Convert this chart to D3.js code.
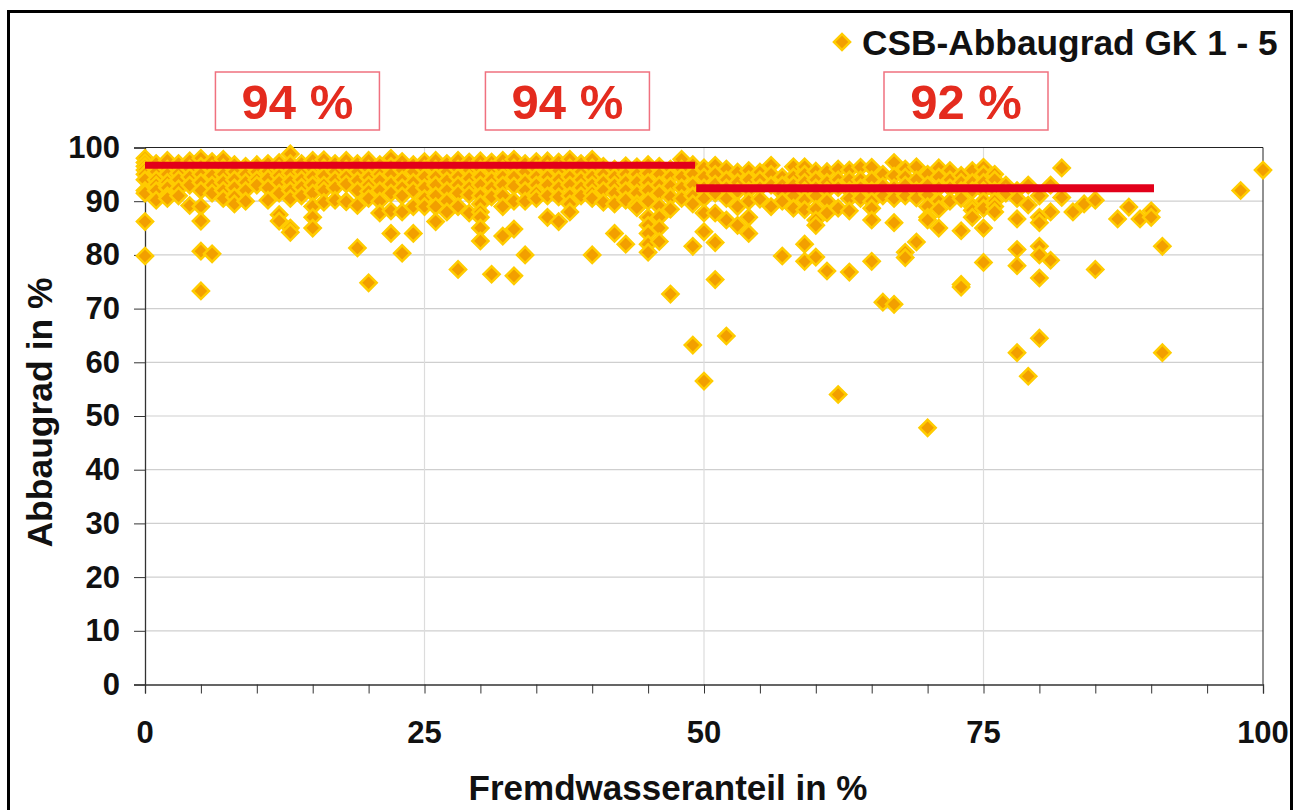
<!DOCTYPE html>
<html>
<head>
<meta charset="utf-8">
<script src="https://cdn.jsdelivr.net/npm/d3@7"></script>
<style>
    html, body { margin: 0; padding: 0; background: #fff; overflow: hidden; }
    text { font-family: "Liberation Sans", Arial, sans-serif; font-weight: bold; fill: #111; }
</style>
</head>
<body>
<div id="chart"></div>
<script>
var xTicks = [0, 25, 50, 75, 100];
var xMinorTicks = [0, 5, 10, 15, 20, 25, 30, 35, 40, 45, 50, 55, 60, 65, 70, 75, 80, 85, 90, 95, 100];
var yTicks = [0, 10, 20, 30, 40, 50, 60, 70, 80, 90, 100];

var seriesName = "CSB-Abbaugrad GK 1 - 5";
var xTitle = "Fremdwasseranteil in %";
var yTitle = "Abbaugrad in %";

// x value, then every y value read at that x
var points = [
    [0, [98, 97.2, 96.5, 95.8, 95, 94, 92, 91.5, 86.2, 79.8]],
    [1, [97, 95.5, 94, 93, 92, 90.2]],
    [2, [97.6, 96, 95, 93.5, 92.5, 91, 90.5]],
    [3, [97, 95.2, 94, 92.3, 91]],
    [4, [97.5, 96, 94.5, 93, 89.2]],
    [5, [98, 96.5, 95, 93.5, 92, 89, 86.3, 80.7, 73.3]],
    [6, [97.4, 96, 94.8, 93, 91.5, 80.2]],
    [7, [97.8, 96.2, 95, 93.5, 92, 90.5]],
    [8, [96.8, 95.5, 94, 92.5, 90.8, 89.5]],
    [9, [96.5, 95, 93.5, 92, 90]],
    [10, [96.8, 95.5, 94, 93]],
    [11, [97, 95.6, 94.2, 92.5, 90.2]],
    [12, [97.2, 96, 94.8, 93.5, 91.5, 87.5, 86.3]],
    [13, [98.8, 97, 95.2, 93.6, 92, 90.5, 85, 84.2]],
    [14, [97, 95.5, 94, 92.6, 91]],
    [15, [97.6, 96, 94.5, 93, 91.5, 89, 87, 85]],
    [16, [97.7, 96.2, 94.7, 93, 92, 89.8]],
    [17, [97, 95.5, 94, 92.5, 90.2]],
    [18, [97.6, 96, 94.5, 93.2, 90, 89.9]],
    [19, [97, 95.5, 93.8, 92, 89.2, 81.3]],
    [20, [97.6, 96, 94.4, 93, 91.8, 90.5, 74.8]],
    [21, [96.8, 95, 93.8, 92, 90, 87.8]],
    [22, [98, 96.5, 95, 93.2, 91.5, 88.2, 84]],
    [23, [97.4, 95.8, 94, 92.5, 91, 88, 80.3]],
    [24, [96.8, 95.5, 93.5, 92, 89, 84]],
    [25, [97.4, 96, 94.5, 92.5, 90.5, 89]],
    [26, [97.6, 96, 94.5, 93, 91, 89, 86.2]],
    [27, [97, 95.5, 93.8, 92, 90, 88]],
    [28, [97.6, 96, 94.5, 93, 91.5, 89, 77.3]],
    [29, [97.3, 95.8, 94.2, 92.5, 91.2, 87.8]],
    [30, [97.5, 96, 94.5, 93, 91, 89.5, 88, 87, 85, 82.6]],
    [31, [97.3, 96, 94, 92.5, 90.8, 76.4]],
    [32, [97.6, 96, 94.5, 93, 91, 89, 83.5]],
    [33, [97.8, 96.2, 94.5, 92.8, 90, 84.8, 76.1]],
    [34, [97, 95.5, 93.5, 92, 90, 80]],
    [35, [97.4, 96, 94.5, 93, 91.5, 90.5]],
    [36, [97.5, 96, 94.5, 93, 91, 87]],
    [37, [97.3, 95.7, 94, 92.5, 90.8, 86.2]],
    [38, [97.8, 96.2, 94.5, 93, 91, 89.5, 88]],
    [39, [97, 95.5, 94, 92.5, 91]],
    [40, [97.8, 96.2, 94.5, 93, 91.5, 90.5, 80]],
    [41, [96.5, 95, 93.5, 92, 89.8]],
    [42, [96, 94.5, 93, 91.5, 89.5, 84]],
    [43, [96.6, 95, 93.5, 92, 90.2, 82]],
    [44, [96.4, 95, 93.5, 91.5, 89.5, 88.8]],
    [45, [96.8, 95.2, 93.5, 92, 90, 87, 85.5, 84, 82, 80.5]],
    [46, [96.5, 95, 93, 91.5, 89, 87, 85, 82.5]],
    [47, [96, 94.5, 92.8, 90.8, 88.5, 72.7]],
    [48, [97.8, 96, 94.5, 92.5, 90.5]],
    [49, [96.8, 95, 93, 91, 89.5, 81.6, 63.2]],
    [50, [96.2, 94.5, 92.5, 90.5, 87.8, 84.3, 56.5]],
    [51, [96.7, 95, 93.2, 91.5, 87.8, 82.3, 75.4]],
    [52, [96, 94, 92.5, 90.5, 86.5, 64.9]],
    [53, [95.4, 93.5, 91.8, 89, 85.5]],
    [54, [95.7, 94, 92, 90, 87, 84]],
    [55, [95.4, 94, 92.5, 90.4]],
    [56, [96.7, 95, 93, 89]],
    [57, [94.5, 93, 91.5, 90, 79.8]],
    [58, [96.4, 94.5, 93, 91, 88.7]],
    [59, [96.4, 95, 93.5, 92, 90.2, 88.4, 82, 78.8]],
    [60, [95.6, 94, 92.5, 91, 88.5, 86.5, 85.5, 79.6]],
    [61, [95.5, 93.5, 92, 90, 87.8, 77]],
    [62, [96, 94, 92.5, 88.7, 54]],
    [63, [95.8, 94, 92, 90.5, 88.2, 76.8]],
    [64, [96.3, 94, 92.5, 90.5]],
    [65, [96.3, 94, 92, 90, 88.7, 86.5, 78.8]],
    [66, [95, 92.8, 91, 71.2]],
    [67, [97.2, 94.7, 92.5, 90.5, 86, 70.8]],
    [68, [96, 94.5, 93, 91, 80.5, 79.5]],
    [69, [96.4, 94, 92, 90.6, 82.4]],
    [70, [95, 93, 91.2, 89, 87, 86.5, 47.8]],
    [71, [96.2, 94.5, 92.5, 90, 88.5, 85]],
    [72, [95.7, 94, 92.5, 90]],
    [73, [94.8, 93.5, 92, 90.5, 84.5, 74.5, 74]],
    [74, [95.7, 93.5, 92, 89, 88.3, 87]],
    [75, [96.3, 95, 93.5, 92, 90, 88.7, 85, 78.6]],
    [76, [95, 94, 92, 90, 89, 88]],
    [77, [93, 91.5]],
    [78, [92, 90.5, 86.7, 81, 78, 61.8]],
    [79, [93, 89.3, 57.4]],
    [80, [91, 87, 86, 81.6, 80, 75.7, 64.5]],
    [81, [93, 88, 79]],
    [82, [96.2, 90.7]],
    [83, [88]],
    [84, [89.5]],
    [85, [90.2, 77.3]],
    [87, [86.7]],
    [88, [88.9]],
    [89, [86.7]],
    [90, [88.2, 87]],
    [91, [81.6, 61.8]],
    [98, [92]],
    [100, [95.8]]
];

// mean lines and the percentages in the boxes
var meanLeft = [[0, 96.7], [49.2, 96.7]];
var meanRight = [[49.3, 92.4], [90.25, 92.4]];
var boxLabels = ["94 %", "94 %", "92 %"];
var boxLeft = [6.3, 30.45, 66.1];

var width = 1304;
var height = 810;
var plotLeft = 145;
var plotRight = 1263;
var plotTop = 147.5;
var plotBottom = 684.5;

var x = d3.scaleLinear().domain([0, 100]).range([plotLeft, plotRight]);
var y = d3.scaleLinear().domain([0, 100]).range([plotBottom, plotTop]);

var svg = d3.select("#chart")
    .append("svg")
    .attr("width", width)
    .attr("height", height)
    .style("display", "block");

// outer frame, the bottom edge is cut off in the picture
svg.append("path")
    .attr("d", "M8.5,812V11.5H1291.5V812")
    .attr("fill", "none")
    .attr("stroke", "#000")
    .attr("stroke-width", 3);

// grid
svg.selectAll(".grid-h")
    .data(yTicks.filter(function (d) { return d > 0 && d < 100; }))
    .enter()
    .append("line")
    .attr("x1", plotLeft)
    .attr("x2", plotRight)
    .attr("y1", function (d) { return y(d); })
    .attr("y2", function (d) { return y(d); })
    .attr("stroke", "#cfcfcf")
    .attr("stroke-width", 1.2);

svg.selectAll(".grid-v")
    .data([25, 50, 75])
    .enter()
    .append("line")
    .attr("x1", function (d) { return x(d); })
    .attr("x2", function (d) { return x(d); })
    .attr("y1", plotTop)
    .attr("y2", plotBottom)
    .attr("stroke", "#dcdcdc")
    .attr("stroke-width", 1.2);

// top and right edge of the plot area
svg.append("path")
    .attr("d", "M" + plotLeft + "," + plotTop + "H" + plotRight + "V" + plotBottom)
    .attr("fill", "none")
    .attr("stroke", "#222")
    .attr("stroke-width", 1);

// axes
var xAxis = d3.axisBottom(x)
    .tickValues(xMinorTicks)
    .tickSize(9)
    .tickFormat("");

var yAxis = d3.axisLeft(y)
    .tickValues(yTicks)
    .tickSize(11)
    .tickPadding(14)
    .tickFormat(d3.format("d"));

var gx = svg.append("g")
    .attr("transform", "translate(0," + plotBottom + ")")
    .call(xAxis);

gx.selectAll(".tick line").attr("stroke", "#333");
gx.select(".domain").attr("stroke", "#333").attr("stroke-width", 1.3);

var gy = svg.append("g")
    .attr("transform", "translate(" + plotLeft + ",0)")
    .call(yAxis);

gy.selectAll(".tick line").attr("stroke", "#333");
gy.select(".domain").attr("stroke", "#333").attr("stroke-width", 1.3);
gy.selectAll("text")
    .style("font-size", "31px")
    .style("font-family", '"Liberation Sans", Arial, sans-serif')
    .style("font-weight", "bold")
    .attr("fill", "#111");

svg.selectAll(".x-label")
    .data(xTicks)
    .enter()
    .append("text")
    .attr("x", function (d) { return x(d); })
    .attr("y", 743)
    .attr("text-anchor", "middle")
    .style("font-size", "31px")
    .text(function (d) { return d; });

svg.append("text")
    .attr("x", 668)
    .attr("y", 800)
    .attr("text-anchor", "middle")
    .style("font-size", "35px")
    .text(xTitle);

svg.append("text")
    .attr("transform", "translate(52,412.5) rotate(-90)")
    .attr("text-anchor", "middle")
    .style("font-size", "35.5px")
    .text(yTitle);

// diamonds
var diamond = d3.symbol().type(d3.symbolSquare).size(130);

function drawDiamond(sel) {
    sel.attr("d", diamond)
        .attr("fill", "#f29f00")
        .attr("stroke", "#ffcc00")
        .attr("stroke-width", 2.5);
}

var flat = [];
points.forEach(function (row) {
    row[1].forEach(function (v) {
        flat.push({ x: row[0], y: v });
    });
});

svg.selectAll(".point")
    .data(flat)
    .enter()
    .append("path")
    .attr("class", "point")
    .attr("transform", function (d) {
        return "translate(" + x(d.x) + "," + y(d.y) + ") rotate(45)";
    })
    .call(drawDiamond);

// mean lines
var line = d3.line()
    .x(function (d) { return x(d[0]); })
    .y(function (d) { return y(d[1]); });

[meanLeft, meanRight].forEach(function (d, i) {
    svg.append("path")
        .attr("d", line(d))
        .attr("fill", "none")
        .attr("stroke", "#e2001a")
        .attr("stroke-width", i == 0 ? 7 : 8);
});

// percentage boxes
var boxes = svg.selectAll(".box")
    .data(boxLabels)
    .enter()
    .append("g")
    .attr("transform", function (d, i) {
        return "translate(" + x(boxLeft[i]) + ",72)";
    });

boxes.append("rect")
    .attr("width", 164)
    .attr("height", 58)
    .attr("fill", "#fff")
    .attr("stroke", "#f0717f")
    .attr("stroke-width", 1.5);

boxes.append("text")
    .attr("x", 82)
    .attr("y", 47)
    .attr("text-anchor", "middle")
    .style("font-size", "49px")
    .style("fill", "#e42b1e")
    .text(function (d) { return d; });

// legend
svg.append("path")
    .attr("transform", "translate(842,42) rotate(45)")
    .call(drawDiamond);

svg.append("text")
    .attr("x", 862)
    .attr("y", 55)
    .style("font-size", "35.3px")
    .text(seriesName);
</script>
</body>
</html>
